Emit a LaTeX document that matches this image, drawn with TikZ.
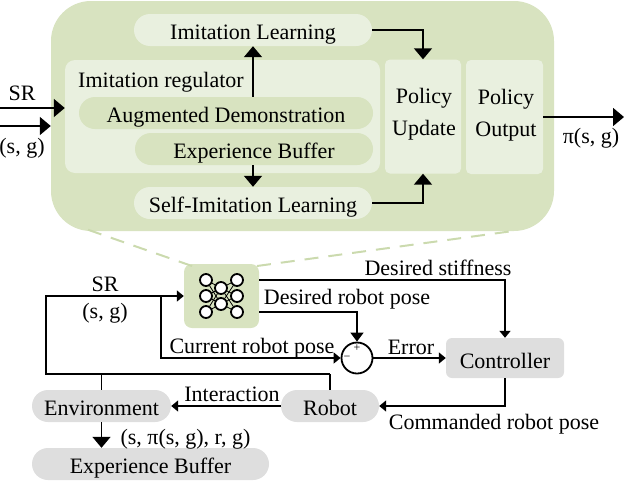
\documentclass[tikz,border=0pt]{standalone}
\usepackage{fontspec}
\setmainfont{Liberation Serif}
\usetikzlibrary{arrows.meta}

\definecolor{moss}{HTML}{D8E3C0}
\definecolor{pale}{HTML}{E9F0DF}
\definecolor{mist}{HTML}{DEDEDE}
\definecolor{dashgreen}{HTML}{CBDAAE}

\tikzset{
  txt/.style={inner sep=0pt,font=\fontsize{22}{32}\selectfont,align=center},
  lbl/.style={txt,anchor=base},
  pill/.style={txt,fill=#1,rounded corners=16pt,minimum height=32pt,text height=18.5pt,text depth=0pt},
  panel/.style={txt,fill=pale,rounded corners=5pt,minimum height=114pt},
  flow/.style={line width=1.6pt,-{Triangle[length=11pt,width=18pt]}},
  wire/.style={line width=1.6pt},
  feed/.style={line width=1.6pt,-{Triangle[length=7pt,width=11pt]}},
  neuron/.style={circle,draw,line width=1.8pt,fill=white,inner sep=0pt,minimum size=12pt},
  nnlink/.style={line width=0.8pt},
  zoomline/.style={dashgreen,line width=2pt,dash pattern=on 14pt off 10pt},
}

\begin{document}
\begin{tikzpicture}[x=1pt,y=-1pt]
\useasboundingbox (0,0) rectangle (626,482);

\node[fill=moss,rounded corners=40pt,minimum width=503pt,minimum height=230pt] (policy) at (302.5,116) {};%policy block
\node[fill=pale,rounded corners=10pt,minimum width=315pt,minimum height=113pt] (regbox) at (222.5,116.5) {};
\node[lbl] (regtxt) at (161,87) {Imitation regulator};
\node[pill=pale,minimum width=238pt] (il) at (253,30) {Imitation Learning};
\node[pill=moss,minimum width=294pt] (aug) at (226,113) {Augmented Demonstration};
\node[pill=moss,minimum width=238pt] (ebin) at (254,149) {Experience Buffer};
\node[pill=pale,minimum width=238pt] (sil) at (253,203) {Self-Imitation Learning};
\node[panel,minimum width=76pt] (upd) at (423,116.5) {};
\node[panel,minimum width=77pt] (out) at (504.5,117) {};
\node[lbl] (updtxt1) at (424,103) {Policy};
\node[lbl] (updtxt2) at (424,135) {Update};
\node[lbl] (outtxt1) at (506,104) {Policy};
\node[lbl] (outtxt2) at (506,136) {Output};

\coordinate (srin) at (0,108);
\coordinate (sgin) at (0,126);
\coordinate (piout) at (624,117);
\node[lbl] (srtop) at (22,100) {SR};
\node[lbl] (sgtop) at (22,153) {(s, g)};
\node[lbl] (pitxt) at (591,143) {π(s, g)};

\draw[flow] (srin)--(regbox.west |- srin);
\draw[flow] (sgin)--(policy.west |- sgin);
\draw[flow] (out.east |- piout)--(piout);
\draw[flow] (il.south |- aug.north)--(il.south);
\draw[flow] (il.south |- ebin.south)--(il.south |- sil.north);
\draw[flow] (il.east)-|(upd.north);
\draw[flow] (sil.east)-|(upd.south);

\node[fill=moss,rounded corners=8pt,minimum width=75pt,minimum height=64pt] (nn) at (221.5,296) {};%network
\draw[zoomline] (192,266)--(83,228);
\draw[zoomline] (257,266)--(513,231);

\node[neuron] (a1) at (206,280) {};
\node[neuron] (a2) at (206,296) {};
\node[neuron] (a3) at (206,312) {};
\node[neuron] (b1) at (221,288) {};
\node[neuron] (b2) at (221,304) {};
\node[neuron] (c1) at (237,280) {};
\node[neuron] (c2) at (237,296) {};
\node[neuron] (c3) at (237,312) {};
\draw[nnlink] (a1)--(b1) (a2)--(b1) (a3)--(b1) (a1)--(b2) (a2)--(b2) (a3)--(b2);
\draw[nnlink] (c1)--(b1) (c2)--(b1) (c3)--(b1) (c1)--(b2) (c2)--(b2) (c3)--(b2);

\node[pill=mist,minimum width=139pt] (env) at (101.5,406) {Environment};
\node[pill=mist,minimum width=98pt] (robot) at (330,406) {Robot};
\node[pill=mist,minimum width=237pt] (ebout) at (150.5,464) {Experience Buffer};
\node[txt,fill=mist,rounded corners=6pt,minimum width=118pt,minimum height=40pt,text height=20pt,text depth=0pt] (ctrl) at (505,358) {Controller};
\node[circle,draw,line width=1.8pt,inner sep=0pt,minimum size=31pt] (sum) at (357,358) {};%sum
\node[inner sep=0pt,font=\fontsize{12}{12}\selectfont] (plus) at (357,348) {+};
\node[inner sep=0pt,font=\fontsize{12}{12}\selectfont] (minus) at (347,358) {−};

\node[lbl] (srlow) at (105,291) {SR};
\node[lbl] (sglow) at (105,318) {(s, g)};
\node[lbl] (stifftxt) at (438,275) {Desired stiffness};
\node[lbl] (desired) at (347,304) {Desired robot pose};
\node[lbl] (current) at (252,353) {Current robot pose};
\node[lbl] (errtxt) at (411,354) {Error};
\node[lbl] (inter) at (232,401) {Interaction};
\node[lbl] (cmdtxt) at (494,429) {Commanded robot pose};
\node[lbl] (tuple) at (185.5,444) {(s, π(s, g), r, g)};

\coordinate (lt) at (46,296);
\coordinate (lb) at (46,374);
\coordinate (fork) at (161,296);
\coordinate (stiff) at (259,280);
\coordinate (pose) at (259,312);

\draw[feed] (robot.north |- lb)--(lb)--(lt)--(nn.west);
\draw[wire] (robot.north |- lb)--(robot.north);
\draw[wire] (lb -| env.north)--(env.north);
\draw[feed] (fork)--(fork |- sum)--(sum.west);
\draw[feed] (stiff)-|(ctrl.north);
\draw[flow,-{Triangle[length=9pt,width=13pt]}] (pose)-|(sum.north);
\draw[feed] (sum.east)--(ctrl.west);
\draw[feed] (ctrl.south)|-(robot.east);
\draw[feed] (robot.west)--(env.east);
\draw[flow] (env.south)--(env.south |- ebout.north);

\end{tikzpicture}
\end{document}
